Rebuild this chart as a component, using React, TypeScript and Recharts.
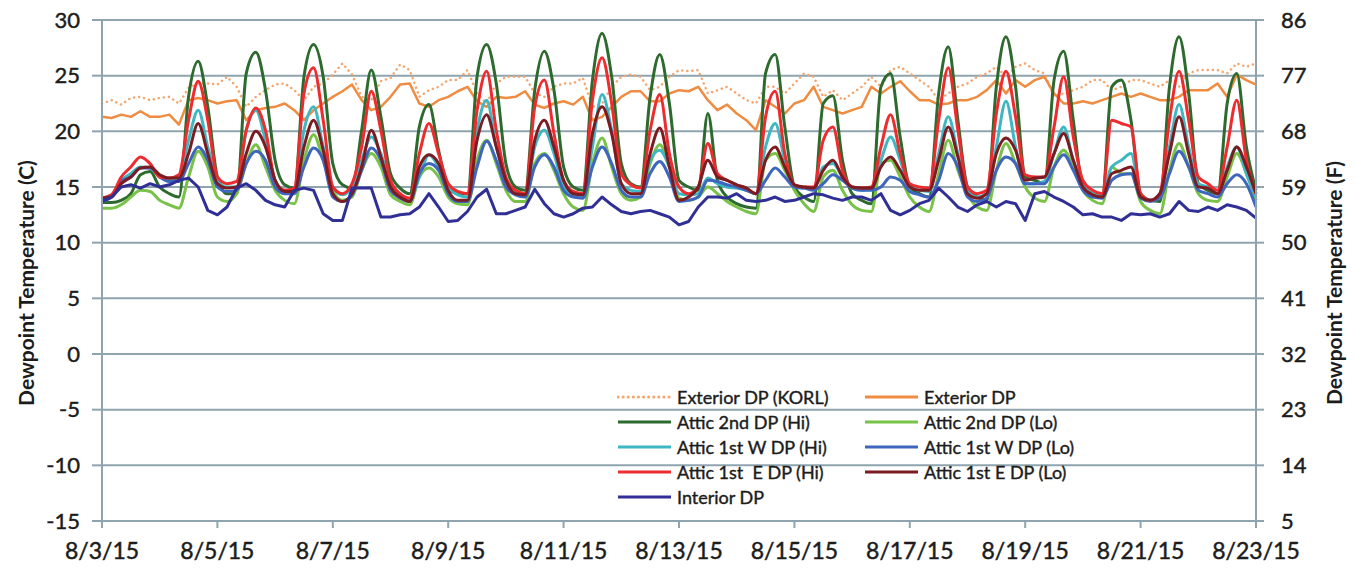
import { LineChart, Line, XAxis, YAxis, CartesianGrid } from "recharts"

// x axis: days since 8/3/15 00:00, labels every 2 days
const dayTicks = [0, 2, 4, 6, 8, 10, 12, 14, 16, 18, 20]
const dateLabels = ["8/3/15", "8/5/15", "8/7/15", "8/9/15", "8/11/15", "8/13/15", "8/15/15", "8/17/15", "8/19/15", "8/21/15", "8/23/15"]
const celsiusTicks = [-15, -10, -5, 0, 5, 10, 15, 20, 25, 30]
const fahrenheitTicks = [5, 14, 23, 32, 41, 50, 59, 68, 77, 86]

// readings every 4 hours (00,04,08,12,16,20), one row per day, last value = 8/23 00:00
const exteriorKorl = [
  22.5, 22.8, 22.4, 23.0, 23.1, 22.8,
  23.0, 23.1, 22.5, 23.9, 24.3, 24.3,
  24.2, 24.9, 24.0, 22.2, 23.1, 23.7,
  24.2, 24.3, 23.7, 22.8, 24.0, 24.3,
  25.1, 26.1, 25.1, 23.1, 22.8, 24.5,
  24.8, 26.0, 25.5, 23.1, 23.7, 24.0,
  24.6, 24.6, 25.5, 23.4, 22.5, 24.3,
  24.9, 24.9, 24.9, 23.4, 23.1, 24.0,
  24.3, 24.3, 24.8, 22.2, 22.5, 24.0,
  24.9, 25.1, 24.9, 23.7, 24.0, 24.9,
  25.5, 25.4, 25.5, 23.4, 23.7, 24.0,
  23.4, 22.8, 22.5, 24.0, 24.0, 23.4,
  24.3, 25.2, 24.9, 23.1, 23.7, 22.8,
  23.4, 24.0, 24.9, 24.0, 25.5, 25.8,
  25.2, 24.6, 24.0, 22.8, 23.4, 24.0,
  24.3, 24.9, 25.2, 25.8, 24.9, 25.8,
  26.1, 25.5, 25.2, 23.1, 23.4, 23.7,
  24.0, 24.6, 24.6, 23.7, 24.0, 24.6,
  24.6, 24.3, 24.0, 24.6, 24.0, 25.2,
  25.5, 25.5, 25.5, 25.2, 26.1, 25.8,
  26.1,
]
const exteriorDp = [
  21.3, 21.2, 21.5, 21.3, 21.8, 21.3,
  21.3, 21.5, 20.6, 22.8, 23.0, 22.8,
  22.5, 22.7, 22.8, 21.0, 21.9, 22.1,
  22.2, 22.5, 21.9, 21.0, 21.9, 22.5,
  23.1, 23.6, 24.2, 22.8, 21.9, 22.2,
  23.1, 24.2, 24.3, 22.5, 22.2, 22.8,
  23.1, 23.6, 24.0, 22.7, 22.2, 23.1,
  23.0, 23.1, 23.6, 22.4, 22.1, 22.5,
  22.7, 22.4, 23.1, 21.0, 21.3, 22.2,
  23.1, 23.6, 23.6, 22.7, 22.7, 23.4,
  23.7, 23.6, 24.0, 22.8, 21.9, 22.4,
  21.6, 21.0, 20.1, 22.8, 22.2, 21.6,
  22.5, 22.8, 24.0, 22.2, 21.9, 21.6,
  21.9, 22.2, 24.0, 23.4, 24.0, 24.5,
  23.6, 22.8, 22.8, 22.4, 22.5, 22.8,
  22.8, 23.1, 23.7, 24.6, 23.4, 24.6,
  24.0, 24.6, 24.9, 23.4, 22.5, 22.5,
  22.7, 22.5, 22.8, 23.1, 23.4, 23.1,
  23.4, 23.1, 22.8, 22.8, 23.1, 23.7,
  23.7, 23.7, 24.3, 23.1, 25.1, 24.6,
  24.2,
]
const attic2ndHi = [
  13.6, 13.6, 13.8, 14.4, 16.1, 16.4,
  15.0, 14.4, 14.1, 23.1, 26.3, 22.2,
  15.9, 14.4, 14.4, 25.2, 27.1, 23.7,
  17.4, 15.2, 14.9, 24.9, 27.8, 24.9,
  17.1, 15.2, 14.9, 20.1, 25.5, 21.3,
  16.2, 14.9, 14.4, 20.4, 22.4, 18.3,
  15.0, 14.4, 14.4, 24.9, 27.8, 24.3,
  17.1, 15.0, 14.7, 23.7, 27.2, 23.7,
  16.8, 15.0, 14.7, 24.6, 28.8, 24.9,
  17.1, 15.3, 15.0, 23.1, 26.9, 22.5,
  15.6, 15.0, 14.7, 21.6, 15.6, 14.1,
  13.5, 13.2, 13.1, 25.2, 26.9, 20.4,
  15.0, 14.1, 13.7, 22.5, 23.2, 17.4,
  14.4, 13.8, 13.5, 24.0, 25.2, 19.5,
  15.0, 14.4, 14.1, 23.4, 27.6, 21.0,
  15.0, 14.1, 13.8, 24.0, 28.5, 24.0,
  15.9, 15.6, 15.3, 24.6, 27.2, 21.0,
  15.0, 14.4, 14.1, 24.0, 24.6, 21.0,
  14.4, 13.8, 13.7, 24.0, 28.5, 23.4,
  15.3, 14.7, 14.4, 22.5, 25.2, 18.6,
  14.7,
]
const attic2ndLo = [
  13.1, 13.1, 13.4, 14.1, 14.7, 14.6,
  13.8, 13.4, 13.1, 15.9, 18.2, 16.8,
  14.1, 13.7, 14.4, 17.1, 18.8, 16.8,
  14.7, 13.8, 13.5, 17.4, 19.7, 17.4,
  14.7, 13.8, 14.1, 16.5, 18.0, 16.8,
  14.3, 13.7, 13.4, 15.9, 16.7, 15.9,
  14.1, 13.5, 13.4, 17.4, 19.2, 17.1,
  14.7, 13.7, 13.7, 17.1, 18.0, 16.5,
  14.4, 13.2, 12.9, 17.1, 19.4, 16.8,
  14.4, 13.8, 14.1, 17.1, 18.8, 16.8,
  14.0, 13.8, 14.1, 15.0, 14.4, 13.7,
  13.2, 12.8, 12.6, 17.4, 18.0, 16.5,
  14.7, 13.5, 12.8, 15.9, 16.5, 14.7,
  13.4, 12.9, 12.8, 17.1, 17.4, 15.9,
  14.1, 13.2, 12.8, 16.2, 19.2, 16.5,
  14.4, 13.2, 12.9, 16.5, 18.9, 17.1,
  15.0, 14.0, 13.7, 16.8, 18.3, 16.8,
  14.7, 13.8, 13.5, 16.8, 16.2, 16.2,
  13.7, 12.9, 12.6, 16.5, 18.9, 16.8,
  14.4, 13.8, 13.7, 15.9, 18.0, 16.2,
  13.8,
]
const attic1stWHi = [
  14.0, 14.3, 15.6, 16.2, 16.8, 16.7,
  15.9, 15.6, 15.8, 19.2, 21.9, 18.6,
  15.6, 15.0, 15.0, 20.1, 21.9, 19.2,
  15.6, 14.7, 14.7, 20.1, 22.2, 18.6,
  15.0, 14.3, 15.0, 17.4, 19.5, 18.0,
  15.2, 14.3, 13.8, 15.9, 17.9, 16.8,
  15.0, 14.3, 14.1, 20.1, 22.8, 18.6,
  15.6, 14.4, 14.3, 18.6, 20.1, 18.0,
  15.0, 14.3, 14.1, 18.6, 23.3, 20.1,
  15.3, 14.7, 14.6, 17.4, 18.3, 16.8,
  14.4, 14.3, 14.4, 15.8, 15.3, 15.0,
  14.9, 14.7, 14.4, 18.6, 20.7, 17.4,
  15.0, 14.9, 14.9, 16.8, 17.1, 15.9,
  14.9, 14.7, 14.9, 17.4, 19.5, 17.4,
  15.0, 14.7, 14.6, 18.0, 21.3, 18.0,
  14.7, 14.1, 14.4, 18.6, 22.7, 18.6,
  15.3, 15.3, 15.5, 18.0, 20.4, 17.4,
  15.3, 14.4, 14.3, 16.8, 17.4, 18.0,
  14.3, 13.8, 14.1, 18.6, 22.4, 18.6,
  15.3, 15.0, 14.4, 16.8, 18.6, 16.2,
  14.1,
]
const attic1stWLo = [
  13.7, 14.1, 15.5, 15.9, 16.7, 16.7,
  15.9, 15.5, 15.5, 17.1, 18.6, 17.4,
  15.0, 14.6, 14.7, 17.1, 18.2, 17.4,
  15.0, 14.4, 14.4, 16.8, 18.5, 17.4,
  14.1, 13.7, 14.3, 16.5, 18.5, 17.4,
  14.7, 14.0, 13.7, 16.2, 17.1, 16.5,
  14.4, 13.7, 13.7, 16.8, 19.1, 17.4,
  15.0, 14.3, 14.1, 16.8, 17.9, 16.8,
  14.7, 14.1, 14.0, 16.8, 18.6, 17.1,
  14.7, 14.1, 14.1, 16.2, 17.3, 15.9,
  13.7, 13.8, 14.1, 15.6, 15.5, 15.2,
  15.0, 14.7, 14.4, 15.6, 16.7, 15.9,
  15.0, 14.9, 14.7, 15.3, 16.1, 15.6,
  14.9, 14.7, 14.7, 15.0, 15.9, 15.6,
  14.6, 14.3, 14.1, 15.6, 18.0, 16.8,
  14.1, 13.7, 14.0, 16.5, 17.7, 17.1,
  15.3, 15.3, 15.3, 16.8, 17.9, 16.5,
  14.7, 14.1, 14.0, 15.6, 16.1, 16.2,
  14.0, 13.7, 14.0, 16.2, 18.2, 16.8,
  14.7, 14.4, 14.1, 15.3, 16.1, 15.3,
  13.2,
]
const attic1stEHi = [
  14.0, 14.3, 15.9, 16.8, 17.7, 17.1,
  15.9, 15.8, 16.1, 21.0, 24.5, 21.0,
  15.9, 15.3, 15.5, 20.1, 22.1, 20.1,
  15.6, 14.7, 14.9, 23.4, 25.7, 21.0,
  15.0, 14.4, 15.3, 18.6, 23.6, 20.1,
  15.6, 14.4, 14.0, 18.0, 20.7, 18.0,
  15.3, 14.6, 14.4, 21.9, 25.4, 20.1,
  15.9, 14.7, 14.4, 22.2, 24.6, 19.8,
  15.6, 14.6, 14.4, 22.8, 26.6, 22.5,
  16.2, 15.2, 14.9, 20.1, 23.3, 18.0,
  15.0, 14.4, 15.0, 18.9, 16.2, 15.6,
  15.2, 14.9, 14.4, 21.3, 23.6, 18.0,
  15.2, 15.0, 15.0, 19.2, 20.4, 16.5,
  15.0, 14.9, 15.0, 18.6, 21.5, 18.0,
  15.3, 15.0, 14.9, 21.0, 25.7, 20.1,
  15.0, 14.4, 14.7, 21.6, 25.4, 21.3,
  16.1, 15.9, 15.9, 20.4, 24.9, 19.5,
  15.6, 14.7, 14.4, 21.0, 20.7, 20.4,
  14.4, 13.8, 14.4, 21.0, 25.4, 21.0,
  15.9, 15.3, 14.7, 18.6, 22.8, 17.4,
  14.4,
]
const attic1stELo = [
  14.0, 14.1, 15.3, 15.9, 16.7, 16.8,
  16.1, 15.8, 15.8, 18.0, 20.7, 18.0,
  15.3, 14.9, 15.0, 18.0, 20.0, 18.6,
  15.6, 14.6, 14.6, 18.6, 21.0, 18.3,
  14.4, 13.7, 14.4, 16.8, 20.1, 17.7,
  15.0, 14.1, 13.7, 16.8, 17.9, 17.1,
  14.7, 13.8, 13.8, 19.2, 21.5, 18.6,
  15.6, 14.4, 14.3, 19.2, 21.0, 18.6,
  15.6, 14.4, 14.3, 19.8, 22.2, 19.8,
  15.3, 14.4, 14.4, 18.0, 20.3, 16.8,
  13.8, 14.1, 15.0, 17.4, 15.9, 15.6,
  15.2, 14.9, 14.4, 17.4, 18.6, 16.8,
  15.2, 15.0, 14.9, 16.5, 17.4, 15.9,
  15.0, 14.9, 14.9, 16.8, 17.7, 16.5,
  15.0, 14.7, 14.7, 17.4, 20.4, 17.7,
  14.4, 14.0, 14.4, 18.0, 19.4, 18.3,
  15.6, 15.8, 15.9, 18.0, 19.8, 17.4,
  15.0, 14.3, 14.1, 16.2, 16.5, 16.8,
  14.1, 13.8, 14.4, 18.0, 21.3, 18.0,
  15.0, 14.9, 14.4, 16.5, 18.6, 16.8,
  14.4,
]
const interiorDp = [
  13.7, 14.1, 15.0, 15.2, 14.9, 15.3,
  15.0, 15.2, 15.6, 15.8, 15.0, 12.9,
  12.5, 13.2, 14.9, 15.3, 14.7, 13.8,
  13.4, 13.2, 14.7, 14.9, 14.7, 12.6,
  12.0, 12.0, 14.9, 14.9, 14.9, 12.3,
  12.3, 12.5, 12.6, 13.2, 14.4, 13.2,
  11.9, 12.0, 12.8, 14.1, 14.8, 12.6,
  12.6, 12.9, 13.2, 14.8, 13.5, 12.6,
  12.3, 12.6, 13.1, 13.2, 14.1, 13.4,
  12.8, 12.6, 12.8, 12.9, 12.6, 12.3,
  11.6, 11.9, 13.2, 14.1, 14.1, 14.0,
  14.4, 13.8, 13.7, 13.8, 14.1, 13.7,
  13.8, 14.1, 14.4, 14.3, 14.0, 13.8,
  14.1, 14.1, 13.8, 14.4, 12.9, 12.5,
  12.9, 13.5, 13.8, 14.9, 14.1, 13.2,
  12.8, 13.4, 13.7, 13.2, 13.7, 13.5,
  12.0, 14.4, 14.6, 14.1, 13.7, 13.2,
  12.5, 12.6, 12.3, 12.3, 12.0, 12.6,
  12.5, 12.6, 12.3, 12.6, 13.7, 12.9,
  12.8, 13.2, 12.9, 13.4, 13.2, 12.9,
  12.2,
]

const series = [
  { key: "korl", name: "Exterior DP (KORL)", values: exteriorKorl, color: "#F4A66E", width: 2.5, dash: "0.1 5", smooth: false },
  { key: "ext", name: "Exterior DP", values: exteriorDp, color: "#EF8C42", width: 2.5, smooth: false },
  { key: "a2hi", name: "Attic 2nd DP (Hi)", values: attic2ndHi, color: "#2C6A2E", width: 3, smooth: true },
  { key: "a2lo", name: "Attic 2nd DP (Lo)", values: attic2ndLo, color: "#77C247", width: 3, smooth: true },
  { key: "a1whi", name: "Attic 1st W DP (Hi)", values: attic1stWHi, color: "#3DB8C2", width: 3, smooth: true },
  { key: "a1wlo", name: "Attic 1st W DP (Lo)", values: attic1stWLo, color: "#3E66BE", width: 3, smooth: true },
  { key: "a1ehi", name: "Attic 1st  E DP (Hi)", values: attic1stEHi, color: "#EE2B2E", width: 3, smooth: true },
  { key: "a1elo", name: "Attic 1st E DP (Lo)", values: attic1stELo, color: "#7A1C22", width: 3, smooth: true },
  { key: "int", name: "Interior DP", values: interiorDp, color: "#2F2F96", width: 3, smooth: false },
]

const rows = exteriorDp.map((_, i) => {
  const row: Record<string, number> = { t: (i * 4) / 24 }
  series.forEach((s) => (row[s.key] = s.values[i]))
  return row
})

const GRID = "#8FA4AE"
const TEXT = "#1c1c1c"
const FONT = 'Lato, "Open Sans", sans-serif'
// the scanned original has heavier glyphs than a plain regular weight
const tickStyle = { fontSize: 22, fill: TEXT, stroke: TEXT, strokeWidth: 0.45 }

// legend order: left column then right column, row by row
const legendLeft = [0, 2, 4, 6, 8]
const legendRight = [1, 3, 5, 7]

function LegendItem({ idx, x, y }: { idx: number; x: number; y: number }) {
  const s = series[idx]
  return (
    <div style={{ position: "absolute", left: x, top: y - 12, height: 24, display: "flex", alignItems: "center" }}>
      <svg width={56} height={24} style={{ display: "block" }}>
        <line x1={1} x2={54} y1={12} y2={12} stroke={s.color} strokeWidth={3}
          strokeDasharray={s.dash} strokeLinecap={s.dash ? "round" : "butt"} />
      </svg>
      <span style={{ marginLeft: 4, fontSize: 18, color: TEXT, whiteSpace: "pre", WebkitTextStroke: "0.4px " + TEXT }}>{s.name}</span>
    </div>
  )
}

const titleStyle = {
  position: "absolute" as const,
  top: 283,
  transform: "translate(-50%, -50%) rotate(-90deg)",
  whiteSpace: "nowrap" as const,
  fontSize: 21,
  fontWeight: 700,
  color: TEXT,
}

export default function App() {
  return (
    <div style={{ position: "absolute", left: 0, top: 0, width: 1356, height: 571, overflow: "hidden", background: "#fff", fontFamily: FONT }}>
      <LineChart width={1356} height={571} data={rows} margin={{ top: 20, right: 0, bottom: 0, left: 0 }}>
        <CartesianGrid yAxisId="c" vertical={false} stroke={GRID} strokeWidth={2} />
        <XAxis dataKey="t" type="number" domain={[0, 20]} ticks={dayTicks} interval={0} height={50}
          tickFormatter={(v: number) => dateLabels[Math.round(v / 2)]}
          stroke={GRID} strokeWidth={2} tickSize={7} tickMargin={15}
          tick={{ ...tickStyle, fontSize: 23 }} />
        <YAxis yAxisId="c" domain={[-15, 30]} ticks={celsiusTicks} interval={0} width={102} allowDataOverflow
          stroke={GRID} strokeWidth={2} tickSize={10} tickMargin={12}
          tick={tickStyle} />
        <YAxis yAxisId="f" orientation="right" domain={[5, 86]} ticks={fahrenheitTicks} interval={0} width={100} allowDataOverflow
          stroke={GRID} strokeWidth={2} tickSize={8} tickMargin={17}
          tick={tickStyle} />
        {series.map((s) => (
          <Line key={s.key} yAxisId="c" type={s.smooth ? "monotone" : "linear"} dataKey={s.key} name={s.name} stroke={s.color}
            strokeWidth={s.width} strokeDasharray={s.dash} strokeLinecap={s.dash ? "round" : "butt"}
            strokeLinejoin="round" dot={false} isAnimationActive={false} />
        ))}
      </LineChart>

      <div style={{ ...titleStyle, left: 25 }}>Dewpoint Temperature (C)</div>
      <div style={{ ...titleStyle, left: 1333 }}>Dewpoint Temperature (F)</div>

      {legendLeft.map((idx, r) => (
        <LegendItem key={idx} idx={idx} x={617} y={397 + r * 25} />
      ))}
      {legendRight.map((idx, r) => (
        <LegendItem key={idx} idx={idx} x={864} y={397 + r * 25} />
      ))}
    </div>
  )
}
